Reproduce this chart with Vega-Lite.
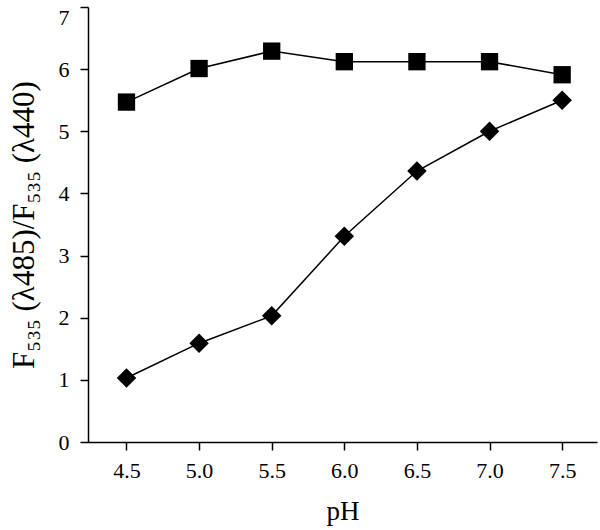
{
  "$schema": "https://vega.github.io/schema/vega-lite/v6.json",
  "autosize": {"type": "none"},
  "width": 509,
  "height": 435,
  "padding": {"left": 88, "top": 7, "right": 3, "bottom": 88},
  "background": "white",
  "config": {
    "view": {"stroke": null},
    "font": "Times New Roman",
    "axis": {"grid": false, "domainColor": "black", "tickColor": "black", "domainWidth": 1.5, "tickWidth": 1.5, "tickSize": 8, "labelColor": "black", "titleColor": "black", "labelFont": "Times New Roman", "titleFont": "Times New Roman", "labelFontSize": 22, "titleFontSize": 27, "titleFontWeight": "normal"}
  },
  "data": {"values": [
    {"pH": 4.5, "ratio": 5.47, "series": "A"},
    {"pH": 5.0, "ratio": 6.01, "series": "A"},
    {"pH": 5.5, "ratio": 6.29, "series": "A"},
    {"pH": 6.0, "ratio": 6.12, "series": "A"},
    {"pH": 6.5, "ratio": 6.12, "series": "A"},
    {"pH": 7.0, "ratio": 6.12, "series": "A"},
    {"pH": 7.5, "ratio": 5.91, "series": "A"},
    {"pH": 4.5, "ratio": 1.03, "series": "B"},
    {"pH": 5.0, "ratio": 1.59, "series": "B"},
    {"pH": 5.5, "ratio": 2.03, "series": "B"},
    {"pH": 6.0, "ratio": 3.31, "series": "B"},
    {"pH": 6.5, "ratio": 4.36, "series": "B"},
    {"pH": 7.0, "ratio": 5.0, "series": "B"},
    {"pH": 7.5, "ratio": 5.5, "series": "B"}
  ]},
  "encoding": {
    "x": {"field": "pH", "type": "quantitative", "scale": {"domain": [4.235, 7.74], "nice": false, "zero": false},
      "axis": {"values": [4.5, 5.0, 5.5, 6.0, 6.5, 7.0, 7.5], "format": ".1f", "labelPadding": 10, "title": "pH", "titlePadding": 17}},
    "y": {"field": "ratio", "type": "quantitative", "scale": {"domain": [0, 7], "nice": false},
      "axis": {"values": [0, 1, 2, 3, 4, 5, 6, 7], "format": "d", "labelPadding": 11,
        "labelBaseline": {"condition": {"test": "datum.value === 7", "value": "top"}, "value": "middle"},
        "title": "F₅₃₅ (λ485)/F₅₃₅ (λ440)", "titleFontSize": 31, "titlePadding": 18}}
  },
  "layer": [
    {"mark": {"type": "line", "color": "black", "strokeWidth": 1.5},
     "encoding": {"detail": {"field": "series"}}},
    {"mark": {"type": "point", "filled": true, "color": "black", "opacity": 1},
     "encoding": {
       "shape": {"field": "series", "scale": {"domain": ["A", "B"], "range": ["square", "diamond"]}, "legend": null},
       "size": {"field": "series", "scale": {"domain": ["A", "B"], "range": [300, 380]}, "legend": null}
     }}
  ]
}
